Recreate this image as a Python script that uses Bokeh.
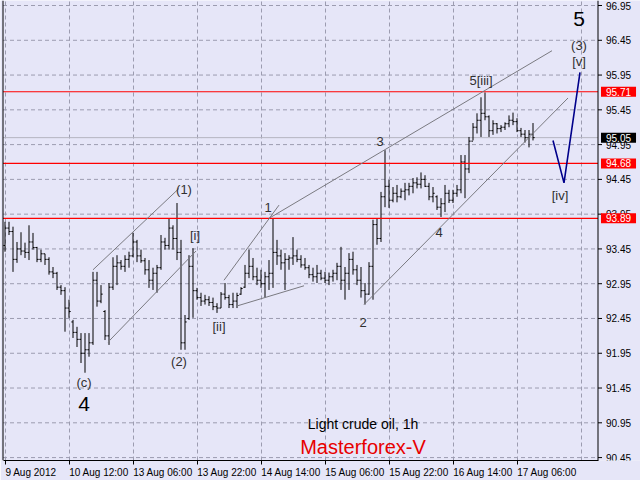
from bokeh.plotting import figure
from bokeh.models import Range1d, FixedTicker, Span, Label, ColumnDataSource
from bokeh.core.properties import value
from bokeh.embed import file_html
from bokeh.resources import INLINE

# ---------------- data (hourly OHLC, Light crude oil) ----------------
highs = [93.84, 93.84, 93.77, 93.55, 93.69, 93.54, 93.79, 93.68, 93.48, 93.44,
         93.38, 93.33, 93.19, 93.12, 92.93, 92.90, 92.72, 92.43, 92.33, 92.24,
         92.24, 92.24, 93.12, 93.12, 92.93, 92.57, 92.96, 93.33, 93.36, 93.29,
         93.36, 93.41, 93.68, 93.58, 93.44, 93.32, 93.29, 93.18, 93.22, 93.65,
         93.61, 93.89, 93.79, 94.11, 93.58, 92.50, 93.36, 93.46, 92.89, 92.82,
         92.79, 92.77, 92.75, 92.67, 92.83, 92.96, 92.79, 92.82, 92.82, 92.90,
         93.22, 93.44, 93.32, 93.18, 93.15, 93.12, 93.29, 93.89, 93.58, 93.44,
         93.39, 93.36, 93.62, 93.44, 93.36, 93.32, 93.22, 93.18, 93.22, 93.15,
         93.12, 93.11, 93.15, 93.25, 93.48, 93.19, 93.39, 93.41, 93.22, 93.19,
         92.96, 93.26, 93.87, 93.89, 94.27, 94.87, 94.44, 94.34, 94.37, 94.32,
         94.40, 94.40, 94.47, 94.48, 94.55, 94.51, 94.40, 94.34, 94.22, 94.18,
         94.37, 94.30, 94.30, 94.37, 94.80, 94.80, 95.06, 95.26, 95.40, 95.63,
         95.70, 95.37, 95.30, 95.26, 95.23, 95.27, 95.37, 95.41, 95.33, 95.19,
         95.16, 95.16, 95.26]
lows = [93.41, 93.65, 93.12, 93.25, 93.36, 93.32, 93.29, 93.44, 93.26, 93.26,
        93.22, 93.08, 93.03, 92.86, 92.79, 92.26, 92.46, 92.17, 92.04, 91.81,
        91.67, 91.90, 92.07, 92.62, 92.67, 92.14, 92.07, 92.86, 92.93, 93.15,
        93.12, 93.18, 93.33, 93.26, 93.25, 93.08, 92.89, 92.86, 92.82, 93.15,
        93.44, 93.44, 93.44, 93.29, 92.00, 92.00, 92.43, 92.46, 92.72, 92.63,
        92.65, 92.63, 92.57, 92.53, 92.60, 92.72, 92.60, 92.60, 92.60, 92.79,
        92.89, 93.03, 93.00, 92.93, 92.89, 92.75, 92.86, 92.89, 93.22, 93.15,
        92.86, 93.15, 93.22, 93.26, 93.18, 93.15, 93.03, 92.98, 92.96, 93.00,
        92.96, 92.93, 92.98, 93.00, 92.86, 92.72, 92.86, 93.08, 92.93, 92.75,
        92.65, 92.79, 92.72, 93.51, 93.55, 94.05, 94.04, 94.12, 94.12, 94.18,
        94.15, 94.22, 94.25, 94.32, 94.32, 94.34, 94.15, 94.12, 94.01, 93.91,
        93.98, 94.11, 94.11, 94.20, 94.25, 94.18, 94.54, 95.01, 95.11, 95.06,
        95.30, 95.06, 95.09, 95.11, 95.13, 95.16, 95.20, 95.23, 95.13, 95.06,
        94.98, 94.91, 95.01]
opens = [93.50, 93.75, 93.70, 93.30, 93.45, 93.42, 93.40, 93.55, 93.47, 93.30,
         93.38, 93.30, 93.12, 93.10, 92.90, 92.85, 92.60, 92.40, 92.25, 92.15,
         91.95, 92.00, 92.10, 93.00, 92.70, 92.55, 92.20, 92.90, 93.20, 93.25,
         93.20, 93.30, 93.35, 93.55, 93.35, 93.28, 93.15, 93.00, 93.10, 93.18,
         93.55, 93.50, 93.75, 93.60, 93.40, 92.10, 92.45, 93.20, 92.85, 92.75,
         92.70, 92.72, 92.68, 92.62, 92.60, 92.80, 92.75, 92.65, 92.70, 92.80,
         92.90, 93.10, 93.20, 93.05, 93.00, 92.95, 93.05, 93.10, 93.40, 93.35,
         93.25, 93.30, 93.32, 93.35, 93.30, 93.22, 93.18, 93.08, 93.05, 93.10,
         93.03, 93.00, 93.05, 93.10, 93.20, 93.00, 93.10, 93.30, 93.15, 93.00,
         92.85, 92.80, 93.20, 93.80, 93.60, 94.20, 94.35, 94.15, 94.25, 94.20,
         94.28, 94.30, 94.35, 94.40, 94.38, 94.45, 94.35, 94.20, 94.20, 94.05,
         94.10, 94.25, 94.15, 94.25, 94.30, 94.70, 94.60, 95.00, 95.20, 95.30,
         95.40, 95.35, 95.15, 95.25, 95.18, 95.20, 95.25, 95.30, 95.28, 95.15,
         95.10, 95.05, 95.10]
closes = [93.75, 93.70, 93.30, 93.45, 93.42, 93.40, 93.55, 93.47, 93.30, 93.38,
          93.30, 93.12, 93.10, 92.90, 92.85, 92.60, 92.55, 92.25, 92.15, 91.95,
          92.00, 92.10, 93.00, 92.70, 92.80, 92.20, 92.90, 93.20, 93.25, 93.20,
          93.30, 93.35, 93.55, 93.35, 93.28, 93.15, 93.00, 93.10, 93.18, 93.55,
          93.50, 93.75, 93.60, 93.40, 92.10, 92.40, 93.20, 92.85, 92.75, 92.70,
          92.72, 92.68, 92.62, 92.60, 92.80, 92.75, 92.65, 92.70, 92.78, 92.88,
          93.10, 93.20, 93.05, 93.00, 92.95, 93.05, 93.10, 93.40, 93.35, 93.25,
          93.30, 93.32, 93.35, 93.30, 93.22, 93.18, 93.08, 93.05, 93.10, 93.03,
          93.00, 93.05, 93.10, 93.20, 93.00, 93.10, 93.30, 93.15, 93.00, 92.85,
          92.80, 93.20, 93.80, 93.60, 94.20, 94.35, 94.15, 94.25, 94.20, 94.28,
          94.30, 94.35, 94.40, 94.38, 94.45, 94.35, 94.20, 94.25, 94.05, 94.10,
          94.25, 94.15, 94.25, 94.30, 94.70, 94.60, 95.00, 95.20, 95.30, 95.40,
          95.35, 95.15, 95.25, 95.18, 95.20, 95.25, 95.30, 95.28, 95.15, 95.10,
          95.05, 95.10, 95.05]

time_tick_bars = [0, 16, 32, 48, 64, 80, 96, 112, 128]
time_tick_labels = ["9 Aug 2012", "10 Aug 12:00", "13 Aug 06:00", "13 Aug 22:00",
                    "14 Aug 14:00", "15 Aug 06:00", "15 Aug 22:00", "16 Aug 14:00",
                    "17 Aug 06:00"]
extra_grid_bar = 144
price_ticks = [96.95, 96.45, 95.95, 95.45, 94.95, 94.45, 93.95, 93.45,
               92.95, 92.45, 91.95, 91.45, 90.95, 90.45]
red_levels = [95.71, 94.68, 93.89]
last_price = 95.05

# wave-count trend lines (bar index, price)
trend_x0 = [22.0, 25.75, 54.75, 58.0, 66.0, 89.75]
trend_y0 = [93.15, 92.11, 93.00, 92.63, 93.89, 92.65]
trend_x1 = [43.5, 47.75, 68.5, 74.75, 136.75, 140.75]
trend_y1 = [94.32, 93.42, 94.08, 92.92, 96.30, 95.62]
forecast_x = [137.0, 139.75, 143.75]
forecast_y = [95.01, 94.40, 95.99]

wave_text = ["(3)", "[v]", "5[iii]", "3", "1", "(1)", "[i]", "[ii]", "(2)", "2", "4", "[iv]", "(c)"]
wave_x = [143.5, 143.5, 119.0, 93.75, 65.75, 44.75, 47.5, 53.5, 43.5, 89.5, 108.5, 138.75, 19.75]
wave_y = [96.38, 96.15, 95.87, 95.00, 94.05, 94.30, 93.65, 92.33, 91.83, 92.39, 93.69, 94.22, 91.53]
big_text = ["5", "4"]
big_x = [143.5, 19.75]
big_y = [96.76, 91.22]

# ---------------- figure ----------------
BG = "#E6E6F8"
FONT = "Liberation Sans"
W, H = 640, 480
PX = 4.0                       # pixels per bar
X0 = -1.125                    # left edge of the canvas (bar units, half-pixel aligned)
X1 = X0 + W / PX               # right edge of the canvas
XB = 148.25                    # chart border (price scale begins here)
XL = -0.5                      # left chart border
GRID = "#9C9CB0"
RED = "#FF0000"

p = figure(width=W, height=H, x_range=Range1d(X0, X1), y_range=Range1d(90.408, 97.022),
           output_backend="svg", toolbar_location=None, y_axis_location=None,
           min_border_left=0, min_border_top=0, min_border_right=0, min_border_bottom=19,
           background_fill_color=BG, border_fill_color=BG, outline_line_color=None)

# x axis: labels left-aligned at tick marks (tick marks drawn as minor ticks)
label_half = [6.5] + [7.5] * (len(time_tick_bars) - 1)
label_centers = [b + h for b, h in zip(time_tick_bars, label_half)]
p.xaxis.ticker = FixedTicker(ticks=label_centers, minor_ticks=time_tick_bars)
p.xaxis.major_label_overrides = {c: t for c, t in zip(label_centers, time_tick_labels)}
p.xaxis.bounds = (XL, XB)
p.xaxis.major_tick_line_color = None
p.xaxis.major_tick_out = 0
p.xaxis.major_tick_in = 0
p.xaxis.minor_tick_line_color = "black"
p.xaxis.minor_tick_out = 4
p.xaxis.minor_tick_in = 0
p.xaxis.major_label_standoff = 2
p.xaxis.axis_line_color = "black"
p.xaxis.major_label_text_font = FONT
p.xaxis.major_label_text_font_size = "10px"
p.xaxis.major_label_text_color = "black"

p.xgrid.ticker = FixedTicker(ticks=time_tick_bars + [extra_grid_bar])
p.xgrid.grid_line_color = GRID
p.xgrid.grid_line_dash = "4 3"
p.ygrid.visible = False

n_pt = len(price_ticks)
# horizontal grid up to the chart border
p.segment(x0=[XL] * n_pt, y0=price_ticks, x1=[XB] * n_pt, y1=price_ticks,
          line_color=GRID, line_dash="4 3", line_width=1)

# current price line
p.segment(x0=[XL], y0=[last_price], x1=[XB], y1=[last_price], line_color="#B4B4C0", line_width=1)

# OHLC bars
xs = list(range(len(highs)))
src = ColumnDataSource(dict(
    x=xs, xl=[x - 0.42 for x in xs], xr=[x + 0.42 for x in xs],
    high=highs, low=lows, open=opens, close=closes))
p.segment(x0="x", y0="low", x1="x", y1="high", source=src, line_color="black", line_width=1)
p.segment(x0="xl", y0="open", x1="x", y1="open", source=src, line_color="black", line_width=1)
p.segment(x0="x", y0="close", x1="xr", y1="close", source=src, line_color="black", line_width=1)

# red levels
n_rl = len(red_levels)
p.segment(x0=[XL] * n_rl, y0=red_levels, x1=[XB] * n_rl, y1=red_levels,
          line_color=RED, line_width=1.2)

# trend lines
p.segment(x0=trend_x0, y0=trend_y0, x1=trend_x1, y1=trend_y1, line_color="#7A7A80", line_width=1)
p.line(forecast_x, forecast_y, line_color="#00008B", line_width=1.6)

# wave labels
p.text(x=wave_x, y=wave_y, text=wave_text, text_align="center", text_baseline="middle",
       text_font=value(FONT), text_font_size="13px", text_color="#303030")
p.text(x=big_x, y=big_y, text=big_text, text_align="center", text_baseline="middle",
       text_font=value(FONT), text_font_size="21px", text_color="black")
p.text(x=[89.5], y=[90.93], text=["Light crude oil, 1h"], text_align="center",
       text_baseline="middle", text_font=value(FONT), text_font_size="14px", text_color="black")
p.text(x=[89.5], y=[90.60], text=["Masterforex-V"], text_align="center",
       text_baseline="middle", text_font=value(FONT), text_font_size="20px", text_color="#E80000")

# chart borders (left, right)
p.add_layout(Span(location=XL, dimension="height", line_color="black", line_width=1))
p.add_layout(Span(location=XB, dimension="height", line_color="black", line_width=1))

# price scale on the right: tick marks and labels
p.segment(x0=[XB] * n_pt, y0=price_ticks, x1=[XB + 4 / PX] * n_pt, y1=price_ticks,
          line_color="black", line_width=1)
p.text(x=[XB] * n_pt, y=price_ticks, text=[f"{t:.2f}" for t in price_ticks], x_offset=8,
       text_align="left", text_baseline="middle", text_font=value(FONT),
       text_font_size="10px", text_color="black")

# price boxes on the price scale
for lv, col in zip(red_levels + [last_price], [RED] * n_rl + ["black"]):
    p.add_layout(Label(x=XB, y=lv, x_offset=3, text=f"{lv:.2f}", text_color="white",
                       text_font=FONT, text_font_size="10px", text_align="left",
                       text_baseline="middle", background_fill_color=col,
                       padding=dict(left=5, right=5, top=1, bottom=1)))

open("out.html", "w").write(file_html(p, INLINE))
